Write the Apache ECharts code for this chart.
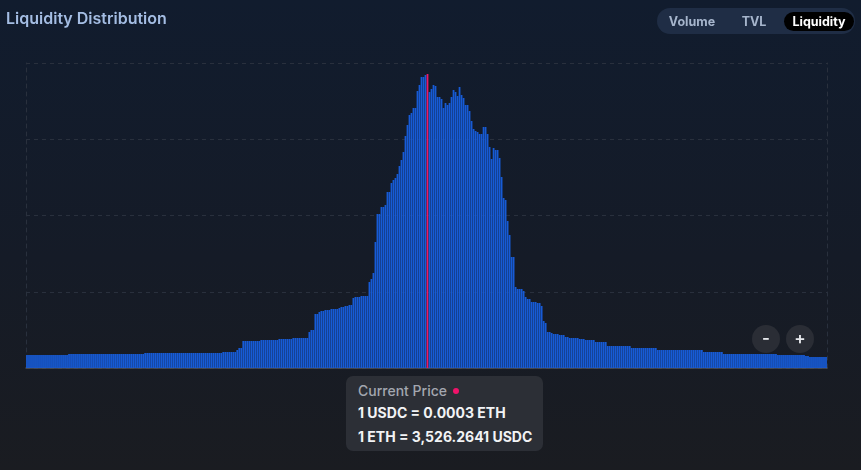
<!DOCTYPE html>
<html>
<head>
<meta charset="utf-8">
<script src="https://cdn.jsdelivr.net/npm/echarts@6/dist/echarts.min.js"></script>
<style>
  html, body { margin: 0; padding: 0; }
  body {
    width: 861px; height: 470px; overflow: hidden; position: relative;
    background: linear-gradient(180deg, #111c2e 0%, #151b27 55%, #1a1c21 100%);
    font-family: Inter, "Noto Sans", sans-serif;
  }
  #chart { position: absolute; left: 0; top: 0; width: 861px; height: 470px; }
  .title { position: absolute; left: 6px; top: 8px; font-size: 16px; font-weight: 600; color: #a4bde3; letter-spacing: 0; }
  .tabs { position: absolute; left: 657px; top: 8px; width: 198px; height: 26px; border-radius: 13px; background: #1f2d45; }
  .tab { position: absolute; top: 4px; height: 19px; line-height: 19px; font-size: 12.5px; font-weight: 700; color: #a6b5cc; text-align: center; border-radius: 10px; }
  .tab.active { background: #000; color: #fff; }
  .zoombtn { position: absolute; width: 28px; height: 28px; border-radius: 50%; background: #2a2d35; color: #e6e8ec; font-size: 17px; font-weight: 600; line-height: 27px; text-align: center; }
  .tip { position: absolute; left: 346px; top: 376px; width: 197px; height: 75px; border-radius: 7px; background: #2c2f36; }
  .tip div { position: absolute; left: 12px; font-size: 14px; white-space: nowrap; }
  .tip .h { top: 6px; color: #a3a7b0; font-weight: 500; }
  .tip .dot { display: inline-block; width: 6px; height: 6px; border-radius: 50%; background: #f0136a; margin-left: 6px; vertical-align: middle; position: relative; top: -1px; }
  .tip .l1 { top: 28px; color: #f2f3f5; font-weight: 700; }
  .tip .l2 { top: 52px; color: #f2f3f5; font-weight: 700; }
</style>
</head>
<body>
<div id="chart"></div>
<div class="title">Liquidity Distribution</div>
<div class="tabs">
  <div class="tab" style="left:8px;width:54px;">Volume</div>
  <div class="tab" style="left:77px;width:40px;">TVL</div>
  <div class="tab active" style="left:127px;width:70px;">Liquidity</div>
</div>
<div class="zoombtn" style="left:752px;top:325px;">-</div>
<div class="zoombtn" style="left:786px;top:325px;">+</div>
<div class="tip">
  <div class="h">Current Price<span class="dot"></span></div>
  <div class="l1">1 USDC = 0.0003 ETH</div>
  <div class="l2">1 ETH = 3,526.2641 USDC</div>
</div>
<script>
// Liquidity per price tick (relative units), left to right
const leftWing = [
  13,13,13,13,13,13,13,13,13,13,13,13,13,13,13,13,13,13,13,13,
  13,14,14,14,14,14,14,14,14,14,14,14,14,14,14,14,14,14,14,14,
  14,14,14,14,14,14,14,14,14,14,14,14,14,14,14,14,14,14,14,15,
  15,15,15,15,15,15,15,15,15,15,15,15,15,15,15,15,15,15,15,15,
  15,15,15,15,15,15,15,15,15,15,15,15,15,15,15,15,15,15,16,16,
  16,16,16,16,16,18,20,20,27,27,27,27,27,27,27,27,27,28,28,28,
  28,28,28,28,28,28,29,29,29,29,29,29,29,30,30,30,30,30,30,30,
  30,36,38,38,54,54,56,57,57,58,58,58,59,59,59,59,60,61,61,62,
  62,63,63,70,71,71,71,72,72,72,72
];
const core = [
  86,89,95,126,154,154,161,161,163,
  176,176,185,188,190,194,202,208,216,232,243,253,255,260,260,277,283,291,291,293,
  294,276,279,283,282,271,271,269,260,265,263,265,271,278,276,272,281,273,270,263,
  263,257,247,239,237,236,234,234,241,241,234,221,209,220,218,218,210,191,170,168,
  147,133,111,111,81,79,79,79,77,71,69,69,66,66,66,65,65,62
];
const rightWing = [
  47,45,
  36,36,35,34,34,34,33,33,33,31,31,30,30,30,30,30,29,29,29,28,
  28,28,28,28,26,26,26,26,26,26,22,22,22,22,22,22,22,22,22,22,
  22,22,20,20,20,20,20,20,20,20,20,20,20,20,20,18,18,18,18,18,
  18,18,18,18,18,18,18,18,18,18,18,18,18,18,18,18,18,18,16,16,
  16,16,16,16,16,16,16,16,14,14,14,14,14,14,14,14,14,14,14,14,
  14,14,14,14,14,14,14,14,14,14,14,14,14,14,14,13,13,13,13,13,
  13,13,13,13,13,13,13,13,13,12,12,11,11,11,11,11,11,11,11,11
];
const currentPriceIndex = 200;

const liquidity = leftWing.concat(core, rightWing);
const ticks = liquidity.map((_, i) => String(i));

const chart = echarts.init(document.getElementById('chart'), null, { renderer: 'canvas' });
const gridLine = { color: '#29303d', width: 1, type: [4, 4] };
chart.setOption({
  animation: false,
  grid: { left: 26, right: 34, top: 63, bottom: 102 },
  xAxis: {
    type: 'category', data: ticks,
    axisLine: { show: true, lineStyle: { color: '#4b4f58', width: 1.5 } },
    axisTick: { show: false }, axisLabel: { show: false }, splitLine: { show: false }
  },
  yAxis: [
    { type: 'value', min: 0, max: 305, interval: 76.25, axisLabel: { show: false }, axisTick: { show: false },
      axisLine: { show: true, lineStyle: gridLine }, splitLine: { show: true, lineStyle: gridLine } },
    { type: 'value', position: 'right', min: 0, max: 305, interval: 76.25, axisLabel: { show: false }, axisTick: { show: false },
      axisLine: { show: true, lineStyle: gridLine }, splitLine: { show: false } }
  ],
  series: [{
    type: 'bar', yAxisIndex: 0, barCategoryGap: '12%',
    data: liquidity.map((v, i) => i === currentPriceIndex
      ? { value: v, itemStyle: { color: '#ef1866' } } : v),
    itemStyle: { color: '#175bd6' }
  }]
});
</script>
</body>
</html>
